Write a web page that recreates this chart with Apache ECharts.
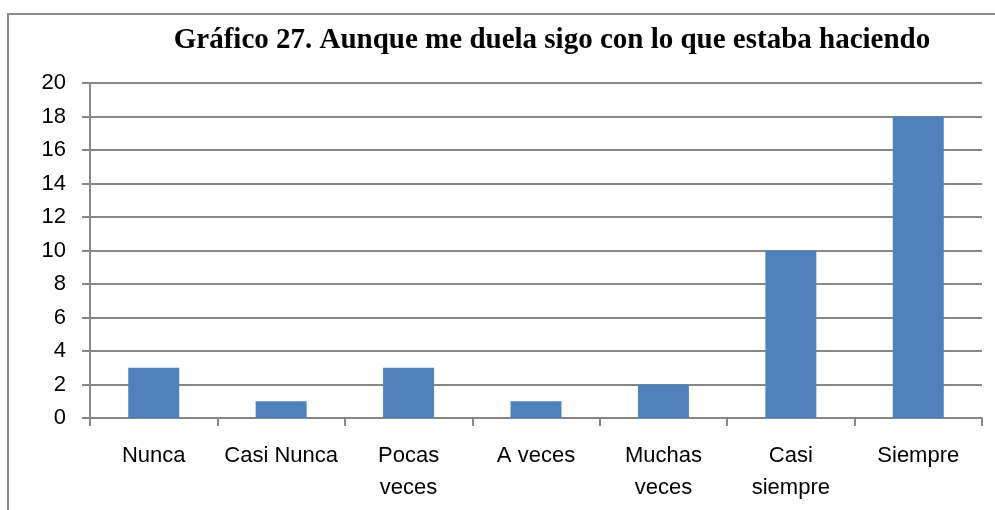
<!DOCTYPE html>
<html>
<head>
<meta charset="utf-8">
<script src="https://cdn.jsdelivr.net/npm/echarts@6/dist/echarts.min.js"></script>
<style>
  html, body { margin: 0; padding: 0; background: #fff; }
  #chart { width: 995px; height: 510px; }
</style>
</head>
<body>
<div id="chart"></div>
<script>
const categories = ['Nunca', 'Casi Nunca', 'Pocas\nveces', 'A veces', 'Muchas\nveces', 'Casi\nsiempre', 'Siempre'];
const values = [3, 1, 3, 1, 2, 10, 18];
const yTicks = { min: 0, max: 20, interval: 2 };

const chart = echarts.init(document.getElementById('chart'));

chart.setOption({
    animation: false,
    title: {
        text: 'Gráfico 27. Aunque me duela sigo con lo que estaba haciendo',
        left: 547,
        top: 21,
        textAlign: 'center',
        textStyle: {
            fontFamily: 'Liberation Serif',
            fontWeight: 'bold',
            fontSize: 29,
            color: '#000'
        }
    },
    graphic: [{
        type: 'rect',
        shape: { x: 8, y: 14, width: 1000, height: 600 },
        style: { fill: 'none', stroke: '#8c8c8c', lineWidth: 2 }
    }],
    grid: { left: 90, right: 13, top: 83, bottom: 92 },
    xAxis: {
        type: 'category',
        data: categories,
        axisLine: { lineStyle: { color: '#878787', width: 2 } },
        axisTick: { show: true, interval: 0, length: 8, lineStyle: { color: '#878787', width: 2 } },
        axisLabel: {
            interval: 0,
            margin: 22,
            fontFamily: 'Liberation Sans',
            fontSize: 22,
            lineHeight: 32,
            color: '#000'
        }
    },
    yAxis: {
        type: 'value',
        min: yTicks.min,
        max: yTicks.max,
        interval: yTicks.interval,
        axisLine: { show: true, lineStyle: { color: '#878787', width: 2 } },
        axisTick: { show: true, length: 8, lineStyle: { color: '#878787', width: 2 } },
        splitLine: { lineStyle: { color: '#878787', width: 2 } },
        axisLabel: {
            margin: 24,
            fontFamily: 'Liberation Sans',
            fontSize: 22,
            color: '#000'
        }
    },
    series: [{
        type: 'bar',
        data: values,
        barWidth: '40%',
        itemStyle: { color: '#4f81bd' }
    }]
});

window.addEventListener('resize', () => {
    chart.resize();
});
</script>
</body>
</html>
